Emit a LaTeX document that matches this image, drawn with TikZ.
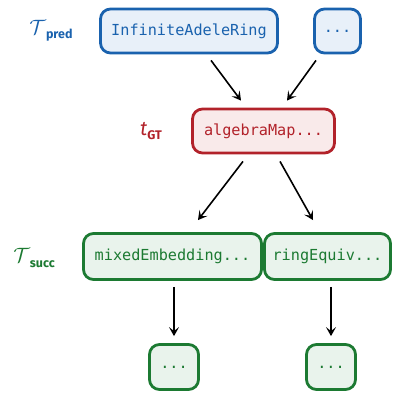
\documentclass[tikz,border=0pt]{standalone}
\usepackage{fontspec}
\setmainfont{Fira Sans}
\setmonofont{DejaVu Sans Mono}
\usetikzlibrary{arrows.meta}
\definecolor{cblue}{HTML}{1A62AE}
\definecolor{fblue}{HTML}{E8F0F9}
\definecolor{cred}{HTML}{B2222A}
\definecolor{fred}{HTML}{F9EAEA}
\definecolor{cgreen}{HTML}{1C7A32}
\definecolor{fgreen}{HTML}{E9F3EC}
\newcommand{\mysub}[1]{\raisebox{-4.5pt}{\fontsize{12.5}{14}\selectfont\upshape\bfseries #1}}
\tikzset{
  box/.style={draw, line width=2.8pt, rounded corners=10pt, inner sep=0pt, font=\ttfamily\fontsize{15.2}{17}\selectfont},
  bluebox/.style={box, draw=cblue, fill=fblue, text=cblue},
  redbox/.style={box, draw=cred, fill=fred, text=cred},
  greenbox/.style={box, draw=cgreen, fill=fgreen, text=cgreen},
  lab/.style={font=\fontsize{20}{22}\selectfont, inner sep=0pt},
  arr/.style={-{Stealth[length=9pt,width=10pt,inset=4pt]}, line width=1.6pt, black}
}
\begin{document}
\begin{tikzpicture}[x=1pt,y=-1pt]
\useasboundingbox (0,0) rectangle (393,394);
\node[bluebox, minimum width=177pt, minimum height=44pt] (iar) at (189,31) {InfiniteAdeleRing};
\node[bluebox, minimum width=46pt, minimum height=44pt] (pd) at (337.5,31) {...};
\node[redbox, minimum width=142pt, minimum height=44pt] (alg) at (263.5,131) {algebraMap...};
\node[greenbox, minimum width=178pt, minimum height=46pt] (mix) at (172.5,256.5) {mixedEmbedding...};
\node[greenbox, minimum width=126pt, minimum height=46pt] (ring) at (327.5,256.5) {ringEquiv...};
\node[greenbox, minimum width=49pt, minimum height=45pt] (d1) at (174,367) {...};
\node[greenbox, minimum width=49pt, minimum height=45pt] (d2) at (331,367) {...};
\node[lab, text=cblue] (lp) at (51,31) {$\mathcal{T}$\mysub{pred}};
\node[lab, text=cred] (lg) at (151,131) {{\itshape t}\mysub{GT}};
\node[lab, text=cgreen] (ls) at (34,258) {$\mathcal{T}$\mysub{succ}};
\draw[arr] ([xshift=22pt,yshift=-6pt]iar.south) -- ([xshift=-22.5pt,yshift=7pt]alg.north);
\draw[arr] ([xshift=-21.5pt,yshift=-6pt]pd.south) -- ([xshift=23.5pt,yshift=7pt]alg.north);
\draw[arr] ([xshift=-20.5pt,yshift=-7pt]alg.south) -- ([xshift=25.5pt,yshift=12pt]mix.north);
\draw[arr] ([xshift=16.5pt,yshift=-7pt]alg.south) -- ([xshift=-14.5pt,yshift=12pt]ring.north);
\draw[arr] ([xshift=1.5pt,yshift=-6pt]mix.south) -- ([yshift=7pt]d1.north);
\draw[arr] ([xshift=3.5pt,yshift=-6pt]ring.south) -- ([yshift=7pt]d2.north);
\end{tikzpicture}
\end{document}
